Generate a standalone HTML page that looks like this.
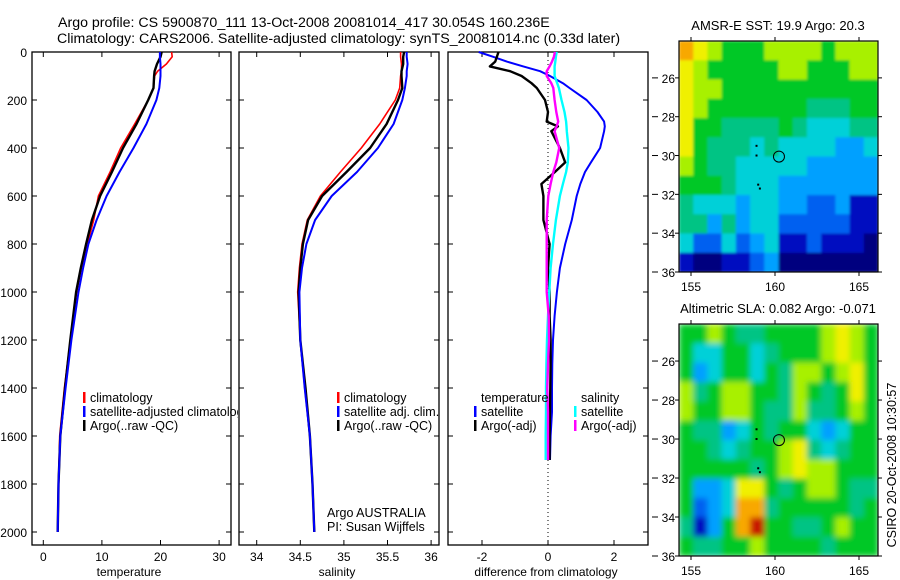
<!DOCTYPE html>
<html><head><meta charset="utf-8">
<style>
html,body{margin:0;padding:0;background:#fff;}
svg{display:block;font-family:"Liberation Sans",sans-serif;}
text{fill:#000;}
</style></head>
<body>
<svg id="fig" width="900" height="580" viewBox="0 0 900 580" xmlns="http://www.w3.org/2000/svg">
<defs>
<clipPath id="clipLeg1"><rect x="0" y="0" width="238" height="580"/></clipPath>
<clipPath id="clipMap1"><rect x="679" y="41" width="199" height="231"/></clipPath>
<clipPath id="clipMap2"><rect x="679" y="324" width="199" height="232"/></clipPath>
<filter id="blurSoft" x="0" y="0" width="1" height="1"><feGaussianBlur stdDeviation="1.2" edgeMode="duplicate"/></filter>
<filter id="blurSmooth" x="0" y="0" width="1" height="1"><feGaussianBlur stdDeviation="3" edgeMode="duplicate"/></filter>
</defs>
<text x="58" y="27" font-size="14.2">Argo profile: CS 5900870_111 13-Oct-2008 20081014_417 30.054S 160.236E</text>
<text x="57" y="43" font-size="14.2">Climatology: CARS2006. Satellite-adjusted climatology: synTS_20081014.nc (0.33d later)</text>
</svg>
<script>
// ---------- data ----------
const depthTicks = [0,200,400,600,800,1000,1200,1400,1600,1800,2000];
const tempTicks = [0,10,20,30];
const salTicks = [34,34.5,35,35.5,36];
const salTickLabels = ["34","34.5","35","35.5","36"];
const diffTicks = [-2,0,2];

const profDepth = [0,20,50,80,100,150,200,300,400,500,600,700,800,900,1000,1200,1400,1600,1800,2000];
const tempClim = [21.9,22.0,21.0,19.5,19.0,18.8,17.9,15.6,13.2,11.4,9.4,8.6,7.5,6.5,5.7,4.6,3.6,2.8,2.6,2.45];
const tempSat  = [19.9,19.9,20.0,20.0,20.0,19.8,19.3,17.6,15.4,13.0,10.8,9.1,7.7,6.8,6.0,4.8,3.8,2.9,2.6,2.45];
const tempArgo = [20.2,20.0,19.4,19.0,18.9,18.8,17.9,15.9,13.6,11.7,9.7,8.3,7.3,6.4,5.6,4.6,3.7,2.9,2.6,2.45];
const salClim = [35.65,35.65,35.66,35.66,35.65,35.64,35.59,35.41,35.20,34.96,34.73,34.58,34.52,34.49,34.47,34.50,34.55,34.61,34.64,34.66];
const salSat  = [35.72,35.72,35.73,35.72,35.72,35.70,35.67,35.57,35.39,35.15,34.86,34.67,34.57,34.52,34.49,34.50,34.55,34.61,34.64,34.66];
const salArgo = [35.69,35.68,35.68,35.66,35.66,35.67,35.62,35.49,35.30,35.03,34.75,34.59,34.53,34.50,34.48,34.50,34.56,34.61,34.64,34.66];

const diffDepth = [0,20,40,60,80,100,130,150,200,250,290,310,330,400,460,500,550,600,700,800,900,1000,1100,1200,1300,1400,1500,1600,1700];
const diffTempSat  = [-2.1,-1.66,-1.25,-0.75,-0.24,0.06,0.45,0.65,1.17,1.5,1.7,1.72,1.7,1.58,1.3,1.12,0.98,0.87,0.72,0.52,0.36,0.27,0.2,0.15,0.13,0.12,0.12,0.08,0.06];
const diffTempArgo = [-1.5,-1.55,-1.6,-1.76,-1.15,-0.8,-0.5,-0.34,-0.09,0.0,-0.04,0.3,0.1,0.36,0.52,0.21,-0.2,-0.14,-0.14,0.05,0.0,0.05,0.05,0.08,0.08,0.07,0.06,0.05,0.05];
const diffSalSat   = [0.26,0.24,0.22,0.2,0.2,0.2,0.28,0.33,0.41,0.5,0.55,0.56,0.57,0.62,0.6,0.55,0.45,0.36,0.24,0.15,0.08,0.04,0.0,-0.03,-0.05,-0.06,-0.06,-0.07,-0.07];
const diffSalArgo  = [0.21,0.18,0.12,0.05,-0.04,-0.04,0.1,0.16,0.2,0.25,0.31,0.26,0.2,0.34,0.25,0.16,0.08,0.01,-0.04,-0.04,-0.04,-0.04,0.02,0.03,0.0,-0.02,0.0,0.0,0.0];

const mapLatTicks = [26,28,30,32,34,36];
const mapLonTicks = [155,160,165];
const sstGrid = [
[9,8,7,6,6,6,7,7,7,7,6,7,7,7],
[8,7,6,6,6,6,6,7,7,6,6,6,7,7],
[8,7,7,6,6,6,6,6,6,6,6,6,6,6],
[8,7,6,6,6,6,6,6,6,5,5,5,6,6],
[8,6,6,5,5,5,5,6,5,4,4,4,5,5],
[8,6,5,5,5,4,5,4,4,4,4,3,3,4],
[7,6,5,5,4,4,4,4,4,3,3,3,3,3],
[6,6,6,5,4,4,4,3,3,3,3,3,3,3],
[5,4,4,4,3,4,4,3,3,2,2,3,1,1],
[5,5,3,5,3,4,4,2,2,2,2,2,1,1],
[4,2,2,4,2,3,4,1,1,2,1,1,1,0],
[1,0,0,1,1,2,3,0,0,0,0,0,0,0]];
const slaGrid = [
[6,6,7,6,5,5,6,6,6,6,7,8,7,6],
[6,4,4,6,6,4,5,6,6,6,7,8,7,6],
[6,3,4,6,6,4,6,5,7,7,6,7,8,6],
[7,5,6,7,7,6,6,5,7,6,5,6,8,6],
[7,6,6,7,7,6,5,5,7,5,5,6,7,6],
[6,5,5,3,4,6,5,6,6,4,3,4,6,6],
[6,6,5,4,5,6,6,7,8,5,4,5,6,6],
[6,6,6,6,6,5,6,7,8,7,7,6,6,6],
[6,3,3,4,8,8,6,5,6,7,7,6,5,5],
[6,2,3,4,9,9,5,6,6,6,6,6,5,6],
[5,1,3,6,9,10,6,6,5,5,6,7,6,6],
[6,5,5,6,6,7,6,6,6,6,5,6,6,6]];
const argoLon = 160.236, argoLat = 30.054;

// ---------- helpers ----------
const NS="http://www.w3.org/2000/svg";
const svg=document.getElementById('fig');
function mk(tag,attrs,parent){const e=document.createElementNS(NS,tag);for(const k in attrs)e.setAttribute(k,attrs[k]);(parent||svg).appendChild(e);return e;}
function txt(x,y,s,size,anchor,parent){const t=mk('text',{x:x,y:y,'font-size':size||12,'text-anchor':anchor||'start'},parent);t.textContent=s;return t;}
const cmap=['#00007f','#0010c0','#0060f0','#00a0ff','#00d0d8','#00c484','#00c828','#a8f000','#f0f000','#f8a800','#c81800'];

const PT=52, PB=545;
const yD=d=>52+d*0.24;
const panels=[
 {name:'temperature-panel',x0:32,x1:231,fx:v=>43.3+v*5.86,ticks:tempTicks,labels:tempTicks.map(String),xlabel:'temperature',xc:129},
 {name:'salinity-panel',x0:239,x1:439,fx:v=>256.7+(v-34)*87.2,ticks:salTicks,labels:salTickLabels,xlabel:'salinity',xc:337},
 {name:'difference-panel',x0:448,x1:648,fx:v=>548+v*33,ticks:diffTicks,labels:diffTicks.map(String),xlabel:'difference from climatology',xc:546}
];
panels.forEach((p,pi)=>{
 const g=mk('g',{});
 
 
 const fr=mk('rect',{x:p.x0,y:PT,width:p.x1-p.x0,height:PB-PT,fill:'none',stroke:'#000','stroke-width':1.3},g);
 
 
 p.ticks.forEach((t,i)=>{
  const x=p.fx(t);
  mk('line',{x1:x,y1:PT,x2:x,y2:PT+5,stroke:'#000'},g);
  mk('line',{x1:x,y1:PB,x2:x,y2:PB-5,stroke:'#000'},g);
  const l=txt(x,561,p.labels[i],12,'middle',g);
  
  
 });
 depthTicks.forEach(d=>{
  mk('line',{x1:p.x0,y1:yD(d),x2:p.x0+5,y2:yD(d),stroke:'#000'},g);
  mk('line',{x1:p.x1,y1:yD(d),x2:p.x1-5,y2:yD(d),stroke:'#000'},g);
  if(pi===0){const l=txt(27,yD(d)+5,String(d),12,'end',g);
   
   }
 });
 const xl=txt(p.xc,576,p.xlabel,12,'middle',g);
 
 
 p.g=g;
});
function stepLine(g,fx,vals,depths,color,w,name){
 let d='';
 vals.forEach((v,i)=>{d+=(i?'L':'M')+fx(v).toFixed(1)+','+yD(depths[i]).toFixed(1);});
 const pa=mk('path',{d:d,fill:'none',stroke:color,'stroke-width':w,'stroke-linejoin':'round'},g);
 
 
}
mk('line',{x1:548,y1:PT,x2:548,y2:PB,stroke:'#000','stroke-dasharray':'1,3'},panels[2].g);
stepLine(panels[0].g,panels[0].fx,tempClim,profDepth,'#ff0000',1.6,'temp-climatology-line');
stepLine(panels[0].g,panels[0].fx,tempArgo,profDepth,'#000',2.4,'temp-argo-line');
stepLine(panels[0].g,panels[0].fx,tempSat,profDepth,'#0000ff',2,'temp-satellite-line');
stepLine(panels[1].g,panels[1].fx,salClim,profDepth,'#ff0000',1.6,'sal-climatology-line');
stepLine(panels[1].g,panels[1].fx,salArgo,profDepth,'#000',2.4,'sal-argo-line');
stepLine(panels[1].g,panels[1].fx,salSat,profDepth,'#0000ff',2,'sal-satellite-line');
stepLine(panels[2].g,panels[2].fx,diffTempSat,diffDepth,'#0000ff',2,'diff-temp-satellite-line');
stepLine(panels[2].g,panels[2].fx,diffTempArgo,diffDepth,'#000',2.4,'diff-temp-argo-line');
stepLine(panels[2].g,panels[2].fx,diffSalSat,diffDepth,'#00ffff',2.4,'diff-sal-satellite-line');
stepLine(panels[2].g,panels[2].fx,diffSalArgo,diffDepth,'#ff00ff',2.4,'diff-sal-argo-line');

function legEntry(g,x,y,color,label,name){
 const e=mk('g',{},g);
 
 
 if(color) mk('rect',{x:x,y:y-10,width:2.5,height:11,fill:color},e);
 txt(x+7,y,label,12.5,'start',e);
}
const lg1=mk('g',{'clip-path':'url(#clipLeg1)'});


legEntry(lg1,83,402,'#ff0000','climatology','legend-entry-climatology');
legEntry(lg1,83,416,'#0000ff','satellite-adjusted climatology','legend-entry-satellite');
legEntry(lg1,83,430,'#000','Argo(..raw -QC)','legend-entry-argo');
const lg2=mk('g',{});


legEntry(lg2,337,402,'#ff0000','climatology','legend-entry-climatology');
legEntry(lg2,337,416,'#0000ff','satellite adj. clim.','legend-entry-satellite');
legEntry(lg2,337,430,'#000','Argo(..raw -QC)','legend-entry-argo');
const lg3=mk('g',{});


legEntry(lg3,474,402,null,'temperature','legend-heading-temperature');
legEntry(lg3,474,416,'#0000ff','satellite','legend-entry-temp-satellite');
legEntry(lg3,474,430,'#000','Argo(-adj)','legend-entry-temp-argo');
legEntry(lg3,574,402,null,'salinity','legend-heading-salinity');
legEntry(lg3,574,416,'#00ffff','satellite','legend-entry-sal-satellite');
legEntry(lg3,574,430,'#ff00ff','Argo(-adj)','legend-entry-sal-argo');
const pi1=txt(327,517,'Argo AUSTRALIA',12.5);


const pi2=txt(327,531,'PI: Susan Wijffels',12.5);



// ---------- maps ----------
const MX0=679, MX1=878;
const lonX=lon=>691+(lon-155)*16.8;
function drawMap(grid,top,bottom,title,name,clipId,filterId){
 const g=mk('g',{});
 
 
 const latY=lat=>bottom-(36-lat)*(bottom-top)/(36-24.1);
 const rows=grid.length, cols=grid[0].length;
 const cw=(MX1-MX0)/cols, ch=(bottom-top)/rows;
 const clipG=mk('g',{'clip-path':'url(#'+clipId+')'},g);
 const cellG=mk('g',{filter:'url(#'+filterId+')'},clipG);
 
 
 grid.forEach((row,r)=>row.forEach((v,c)=>{
  const cell=mk('rect',{x:(MX0+c*cw).toFixed(2),y:(top+r*ch).toFixed(2),width:(cw+0.6).toFixed(2),height:(ch+0.6).toFixed(2),fill:cmap[v]},cellG);
  
  
 }));
 mk('rect',{x:MX0,y:top,width:MX1-MX0,height:bottom-top,fill:'none',stroke:'#000','stroke-width':1.2},g);
 mapLatTicks.forEach(l=>{const y=latY(l);
  mk('line',{x1:MX0-4,y1:y,x2:MX0,y2:y,stroke:'#000'},g);
  mk('line',{x1:MX1,y1:y,x2:MX1+4,y2:y,stroke:'#000'},g);
  mk('line',{x1:652,y1:y,x2:658,y2:y,stroke:'#000'},g);
  const t=txt(MX0-4,y+5,String(l),12,'end',g);
  
  
 });
 mapLonTicks.forEach(l=>{const x=lonX(l);
  mk('line',{x1:x,y1:bottom,x2:x,y2:bottom+4,stroke:'#000'},g);
  mk('line',{x1:x,y1:top-4,x2:x,y2:top,stroke:'#000'},g);
  const t=txt(x,bottom+19,String(l),12,'middle',g);
  
  
 });
 const tt=txt(778,top-11,title,13,'middle',g);
 
 
 const c=mk('circle',{cx:lonX(argoLon),cy:latY(argoLat),r:5.5,fill:'none',stroke:'#000','stroke-width':1},g);
 
 
 [[158.9,29.5],[158.9,30.0],[159.0,31.5],[159.1,31.7]].forEach(p=>{
  mk('rect',{x:lonX(p[0])-1,y:latY(p[1])-1,width:2,height:2,fill:'#000'},g);
 });
}
drawMap(sstGrid,41,272,'AMSR-E SST: 19.9 Argo: 20.3','sst-map','clipMap1','blurSoft');
drawMap(slaGrid,324,556,'Altimetric SLA: 0.082 Argo: -0.071','sla-map','clipMap2','blurSmooth');
const cs=txt(0,0,'CSIRO 20-Oct-2008 10:30:57',12.5,'middle');
cs.setAttribute('transform','translate(896,465) rotate(-90)');


</script>
</body></html>
